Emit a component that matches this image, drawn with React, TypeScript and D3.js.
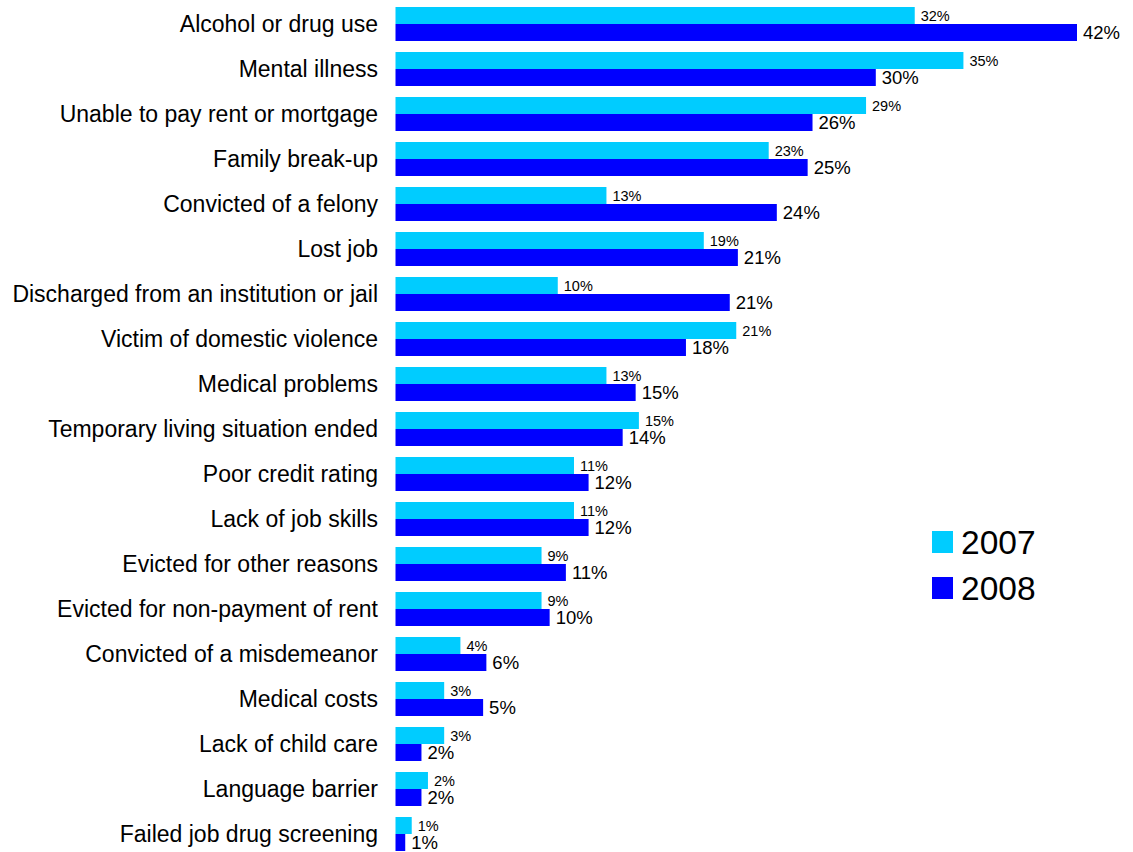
import { useEffect, useRef } from "react";
import * as d3 from "d3";

const categories = [
    "Alcohol or drug use",
    "Mental illness",
    "Unable to pay rent or mortgage",
    "Family break-up",
    "Convicted of a felony",
    "Lost job",
    "Discharged from an institution or jail",
    "Victim of domestic violence",
    "Medical problems",
    "Temporary living situation ended",
    "Poor credit rating",
    "Lack of job skills",
    "Evicted for other reasons",
    "Evicted for non-payment of rent",
    "Convicted of a misdemeanor",
    "Medical costs",
    "Lack of child care",
    "Language barrier",
    "Failed job drug screening",
];

// bar lengths; labels show them rounded
const values2007 = [32, 35, 29, 23, 13, 19, 10, 21, 13, 15, 11, 11, 9, 9, 4, 3, 3, 2, 1];
const values2008 = [42, 29.6, 25.7, 25.4, 23.5, 21.1, 20.6, 17.9, 14.8, 14, 11.9, 11.9, 10.5, 9.5, 5.6, 5.4, 1.6, 1.6, 0.6];

const seriesNames = ["2007", "2008"];
const seriesColors = ["#00CCFF", "#0000FF"];

const width = 1133;
const height = 852;
const font = "'Liberation Sans', Arial, sans-serif";

export default function App() {
    const svgRef = useRef<SVGSVGElement | null>(null);

    useEffect(() => {
        document.body.style.margin = "0";
        const svg = d3.select(svgRef.current);
        svg.selectAll("*").remove();

        const x = d3.scaleLinear().domain([0, 42]).range([395.5, 1077]);
        const y = d3.scaleBand<string>()
            .domain(categories)
            .range([1.5, 1.5 + 45 * categories.length])
            .paddingInner(11 / 45)
            .paddingOuter(5.5 / 45);
        const ySub = d3.scaleBand<string>()
            .domain(seriesNames)
            .range([0, y.bandwidth()]);

        const rows = categories.map((c, i) => ({
            cat: c,
            vals: [values2007[i], values2008[i]],
        }));

        const g = svg.selectAll("g.row")
            .data(rows)
            .enter()
            .append("g")
            .attr("class", "row")
            .attr("transform", d => `translate(0,${y(d.cat)})`);

        // category labels
        g.append("text")
            .attr("x", 378)
            .attr("y", y.bandwidth() / 2)
            .attr("dy", "0.33em")
            .attr("text-anchor", "end")
            .style("font-family", font)
            .style("font-size", "23px")
            .style("fill", "#000")
            .text(d => d.cat);

        seriesNames.forEach((s, si) => {
            g.append("rect")
                .attr("x", x(0))
                .attr("y", ySub(s)!)
                .attr("width", d => x(d.vals[si]) - x(0))
                .attr("height", ySub.bandwidth())
                .attr("fill", seriesColors[si]);

            g.append("text")
                .attr("x", d => x(d.vals[si]) + 6)
                .attr("y", ySub(s)! + ySub.bandwidth() / 2)
                .attr("dy", "0.35em")
                .style("font-family", font)
                .style("font-size", si === 0 ? "14.5px" : "18.5px")
                .style("fill", "#000")
                .text(d => `${Math.round(d.vals[si])}%`);
        });

        // legend
        const legend = svg.append("g").attr("transform", "translate(932,531)");
        seriesNames.forEach((s, i) => {
            legend.append("rect")
                .attr("x", 0)
                .attr("y", i * 46)
                .attr("width", 21)
                .attr("height", 22)
                .attr("fill", seriesColors[i]);
            legend.append("text")
                .attr("x", 29)
                .attr("y", i * 46 + 11)
                .attr("dy", "0.35em")
                .style("font-family", font)
                .style("font-size", "33.5px")
                .style("fill", "#000")
                .text(s);
        });
    }, []);

    return (
        <svg ref={svgRef} width={width} height={height} style={{ display: "block", background: "#fff" }} />
    );
}
